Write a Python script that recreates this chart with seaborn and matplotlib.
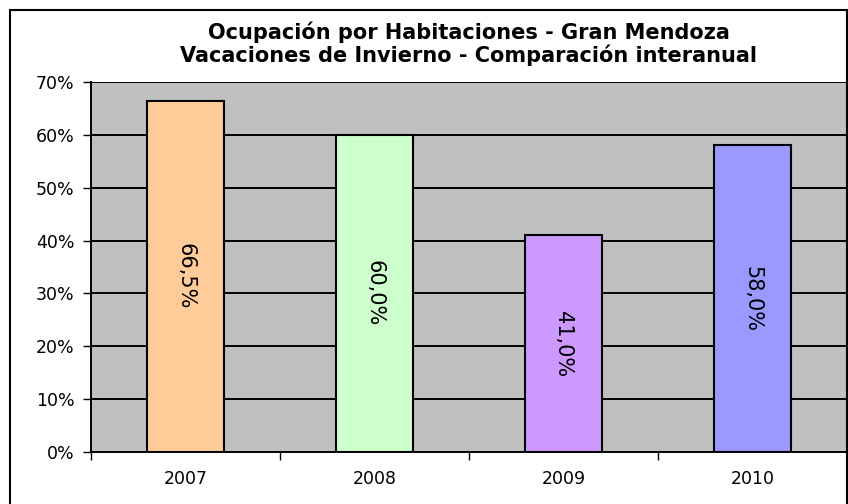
import pandas as pd
import seaborn as sns
import matplotlib.pyplot as plt
from matplotlib.patches import Rectangle

# datos
anios = ["2007", "2008", "2009", "2010"]
ocupacion = [66.5, 60.0, 41.0, 58.0]
colores = ["#FFCC99", "#CCFFCC", "#CC99FF", "#9999FF"]

data = pd.DataFrame({"anio": anios, "ocupacion": ocupacion})

sns.set_style("white")
plt.rcParams['font.family'] = ['DejaVu Sans']
plt.rcParams['text.color'] = 'black'
plt.rcParams['xtick.color'] = 'black'
plt.rcParams['ytick.color'] = 'black'

fig = plt.figure(figsize=(8.48, 5.04), dpi=100)
ax = fig.add_axes([91 / 848, 1 - 452 / 504, 756 / 848, 370 / 504])
ax.set_facecolor("#C0C0C0")

sns.barplot(data=data, x="anio", y="ocupacion", hue="anio", palette=colores,
            order=anios, width=0.41, edgecolor="black", linewidth=1.5,
            saturation=1, legend=False, ax=ax, zorder=3)

ax.set_ylim(0, 70)
ax.set_xlim(-0.5, 3.5)
ax.set_yticks(range(0, 71, 10))
ax.set_yticklabels([f"{v}%" for v in range(0, 71, 10)], fontsize=12.5)
ax.yaxis.grid(True, color="black", linewidth=1.4, zorder=1)
ax.set_axisbelow(True)

# ticks del eje x entre categorias
ax.set_xticks([-0.5, 0.5, 1.5, 2.5, 3.5], minor=False)
ax.set_xticklabels([])
ax.set_xticks(range(4), minor=True)
ax.set_xticklabels(anios, minor=True, fontsize=12.5)
ax.tick_params(axis="x", which="major", direction="out", length=6, width=1, bottom=True)
ax.tick_params(axis="x", which="minor", length=0, pad=13)
ax.tick_params(axis="y", direction="out", length=6, width=1, left=True, pad=6)
ax.set_xlabel("")
ax.set_ylabel("")

for s in ["top", "right"]:
    ax.spines[s].set_visible(False)
for s in ["left", "bottom"]:
    ax.spines[s].set_color("black")
    ax.spines[s].set_linewidth(1.4)

for i, v in enumerate(ocupacion):
    ax.text(i, v / 2, f"{v:.1f}%".replace(".", ","), rotation=270,
            ha="center", va="center", fontsize=15, color="black", zorder=5)

fig.text(0.5 * (91 + 847) / 848, 1 - 44 / 504,
         "Ocupación por Habitaciones - Gran Mendoza\nVacaciones de Invierno - Comparación interanual",
         ha="center", va="center", fontsize=15, fontweight="bold",
         color="black", linespacing=1.1)

fig.patches.append(Rectangle((10 / 848, -0.02), 837 / 848, 1.02 - 10 / 504,
                             transform=fig.transFigure, fill=False,
                             edgecolor="black", linewidth=1.5))

fig.savefig("out.png", dpi=100)
